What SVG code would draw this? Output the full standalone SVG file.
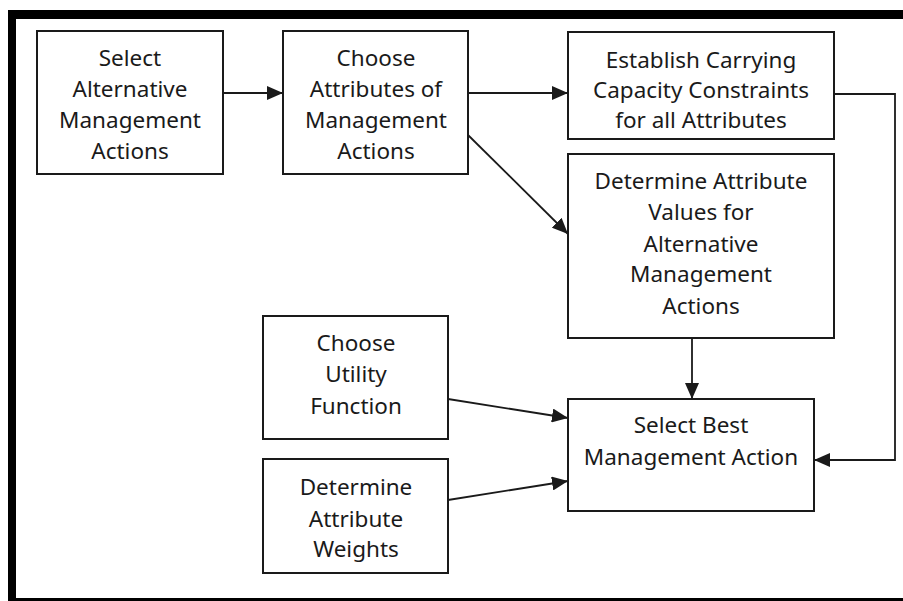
<svg xmlns="http://www.w3.org/2000/svg" width="903" height="601" viewBox="0 0 903 601">
  <style>
    .box { fill: #ffffff; stroke: #1a1a1a; stroke-width: 2; }
    .lbl { font-family: "Comic Sans MS", "Noto Sans", "DejaVu Sans", sans-serif; font-size: 22.5px; fill: #1a1a1a; text-anchor: middle; }
    .conn { fill: none; stroke: #1a1a1a; stroke-width: 1.8; }
  </style>
  <defs>
    <marker id="arrow" viewBox="0 0 16 14" refX="16" refY="7" markerWidth="16" markerHeight="14" markerUnits="userSpaceOnUse" orient="auto">
      <path d="M0,0 L16,7 L0,14 Z" fill="#1a1a1a"/>
    </marker>
  </defs>

  <!-- page background and frame -->
  <rect x="0" y="0" width="903" height="601" fill="#ffffff"/>
  <rect x="8" y="10" width="895" height="9" fill="#000000"/>
  <rect x="8" y="10" width="8" height="591" fill="#000000"/>
  <rect x="8" y="598" width="895" height="3" fill="#000000"/>

  <g id="connectors">
    <line class="conn" x1="223" y1="93" x2="283" y2="93" marker-end="url(#arrow)"/>
    <line class="conn" x1="468" y1="93" x2="568" y2="93" marker-end="url(#arrow)"/>
    <line class="conn" x1="468" y1="135" x2="568" y2="234" marker-end="url(#arrow)"/>
    <line class="conn" x1="692" y1="338" x2="692" y2="399" marker-end="url(#arrow)"/>
    <polyline class="conn" points="834,94 895,94 895,460 814,460" marker-end="url(#arrow)"/>
    <line class="conn" x1="448" y1="399" x2="568" y2="418" marker-end="url(#arrow)"/>
    <line class="conn" x1="448" y1="500" x2="568" y2="481" marker-end="url(#arrow)"/>
  </g>

  <g id="select-alternatives">
    <rect class="box" x="37" y="31" width="186" height="143"/>
    <text class="lbl" x="130" y="66">Select</text>
    <text class="lbl" x="130" y="97">Alternative</text>
    <text class="lbl" x="130" y="128">Management</text>
    <text class="lbl" x="130" y="159">Actions</text>
  </g>

  <g id="choose-attributes">
    <rect class="box" x="283" y="31" width="185" height="143"/>
    <text class="lbl" x="376" y="66">Choose</text>
    <text class="lbl" x="376" y="97">Attributes of</text>
    <text class="lbl" x="376" y="128">Management</text>
    <text class="lbl" x="376" y="159">Actions</text>
  </g>

  <g id="carrying-capacity">
    <rect class="box" x="568" y="32" width="266" height="107"/>
    <text class="lbl" x="701" y="68">Establish Carrying</text>
    <text class="lbl" x="701" y="98">Capacity Constraints</text>
    <text class="lbl" x="701" y="128">for all Attributes</text>
  </g>

  <g id="attribute-values">
    <rect class="box" x="568" y="154" width="266" height="184"/>
    <text class="lbl" x="701" y="189">Determine Attribute</text>
    <text class="lbl" x="701" y="220">Values for</text>
    <text class="lbl" x="701" y="252">Alternative</text>
    <text class="lbl" x="701" y="282">Management</text>
    <text class="lbl" x="701" y="314">Actions</text>
  </g>

  <g id="utility-function">
    <rect class="box" x="263" y="316" width="185" height="123"/>
    <text class="lbl" x="356" y="351">Choose</text>
    <text class="lbl" x="356" y="382">Utility</text>
    <text class="lbl" x="356" y="414">Function</text>
  </g>

  <g id="attribute-weights">
    <rect class="box" x="263" y="459" width="185" height="114"/>
    <text class="lbl" x="356" y="495">Determine</text>
    <text class="lbl" x="356" y="527">Attribute</text>
    <text class="lbl" x="356" y="557">Weights</text>
  </g>

  <g id="select-best">
    <rect class="box" x="568" y="399" width="246" height="112"/>
    <text class="lbl" x="691" y="433">Select Best</text>
    <text class="lbl" x="691" y="465">Management Action</text>
  </g>
</svg>
